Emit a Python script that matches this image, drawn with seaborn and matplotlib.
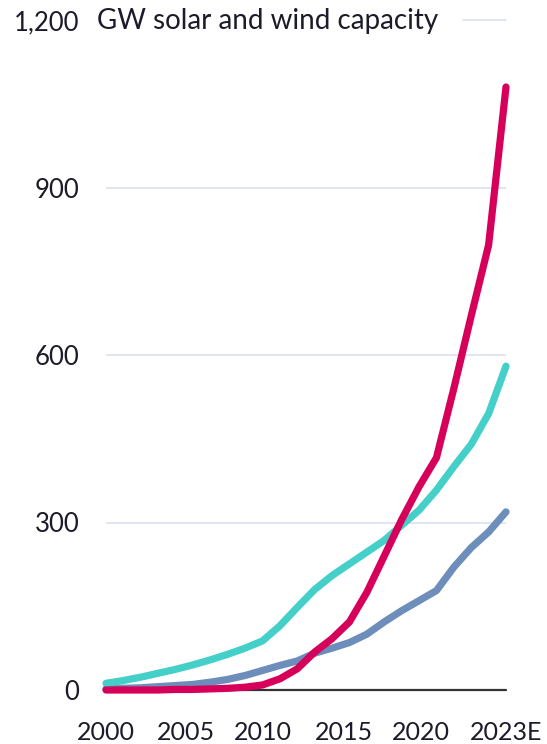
import pandas as pd
import matplotlib.pyplot as plt
import seaborn as sb

years = list(range(2000, 2024))
solar = [0, 0, 0, 0, 1, 1, 2, 3, 5, 9, 20, 38, 68, 92, 122, 175, 240, 305, 364, 416, 540, 670, 797, 1080]
wind = [12, 17, 23, 30, 37, 45, 54, 64, 75, 88, 115, 148, 180, 205, 226, 247, 268, 295, 322, 358, 400, 440, 495, 580]
other = [2, 3, 4, 6, 8, 10, 14, 19, 26, 35, 44, 52, 66, 75, 85, 100, 122, 142, 160, 178, 220, 255, 283, 319]

# the labels in the original are spread evenly, not exactly on their years
tick_pos = [2000, 2004.58, 2009.04, 2013.67, 2018.08, 2023]
tick_labels = ['2000', '2005', '2010', '2015', '2020', '2023E']
y_ticks = [0, 300, 600, 900, 1200]
y_labels = ['0', '300', '600', '900', '1,200']

colors = {'solar': '#D6005A', 'wind': '#45CFC9', 'other': '#6D8DBB'}


def main():
    data = pd.DataFrame({'year': years, 'solar': solar, 'wind': wind, 'other': other})
    long = data.melt(id_vars='year', var_name='series', value_name='gw')

    sb.set_style('white')
    plt.rcParams['font.family'] = ['Lato', 'DejaVu Sans']

    fig = plt.figure(figsize=(5.47, 7.44), dpi=100)
    ax = fig.add_axes([106 / 547, 1 - 690 / 744, 400 / 547, 670 / 744])

    # gridlines first so lines sit on top
    for y in y_ticks[1:-1]:
        ax.axhline(y, color='#DDE3F0', lw=1.3, zorder=1)
    # top line only shows after the title text
    ax.axhline(y_ticks[-1], xmin=0.8925, color='#DDE3F0', lw=1.3, zorder=1)
    ax.axhline(0, color='#333333', lw=1.6, zorder=2)

    sb.lineplot(data=long, x='year', y='gw', hue='series', palette=colors,
                hue_order=['other', 'wind', 'solar'], linewidth=5.2,
                legend=False, ax=ax, zorder=3)
    for line in ax.lines[3:]:
        line.set_solid_capstyle('round')
        line.set_clip_on(False)

    ax.set_xlim(2000, 2023)
    ax.set_ylim(0, 1200)
    ax.set_xticks(tick_pos)
    ax.set_xticklabels(tick_labels)
    ax.set_yticks(y_ticks)
    ax.set_yticklabels(y_labels)
    ax.tick_params(axis='y', length=0, pad=19, labelsize=18.5, labelcolor='#1b1b2a')
    ax.tick_params(axis='x', length=0, pad=22, labelsize=18, labelcolor='#1b1b2a')
    ax.set_xlabel('')
    ax.set_ylabel('')
    sb.despine(ax=ax, left=True, bottom=True, top=True, right=True)

    fig.text(97 / 547, 1 - 21 / 744, 'GW solar and wind capacity', fontsize=20,
             color='#1b1b2a', ha='left', va='center')

    fig.savefig('out.png', dpi=100)
    plt.close()


if "__main__" == __name__:
    main()
